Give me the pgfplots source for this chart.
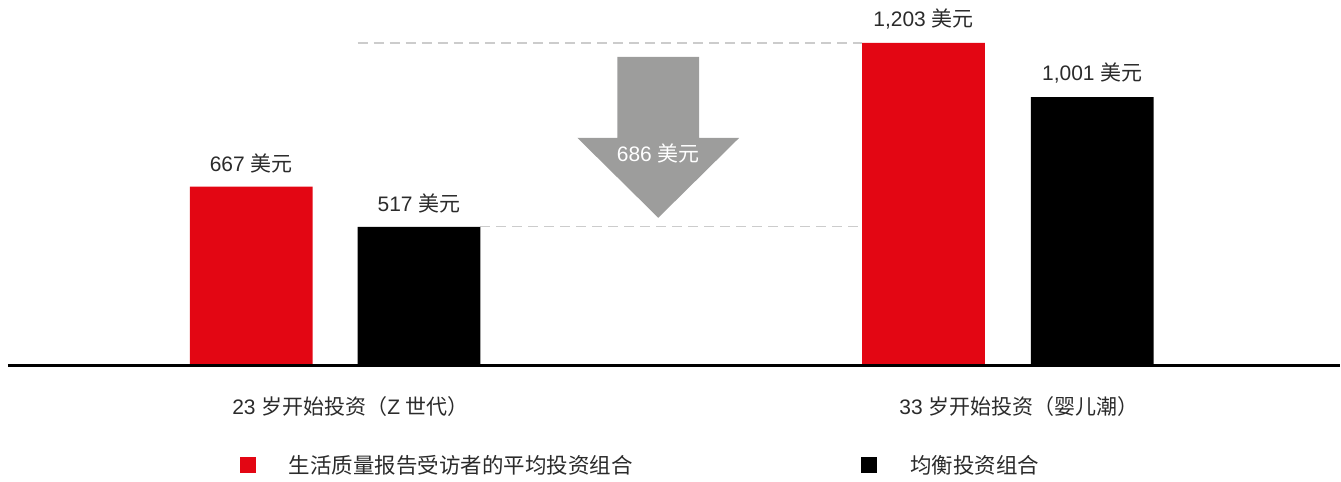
\documentclass[border=0pt]{standalone}
\usepackage{fontspec}
\setmainfont{Liberation Sans}
\newfontfamily\cjk{Noto Sans CJK SC}
\usepackage{pgfplots}
\pgfplotsset{compat=1.18}
\definecolor{qred}{HTML}{E30613}
\definecolor{qgray}{HTML}{9D9D9C}
\definecolor{qdash}{HTML}{CCCCCC}
\definecolor{qtext}{HTML}{2B2B2B}
\begin{document}
\begin{tikzpicture}
\begin{axis}[
  scale only axis, width=1341pt, height=482pt,
  xmin=0, xmax=1341, ymin=-432.2, ymax=1363,
  hide axis, clip=false,
  ybar, bar width=123, bar shift=0pt,
  point meta=y,
  nodes near coords={\pgfmathprintnumber[1000 sep={,},assume math mode=true]{\pgfplotspointmeta}\ {\cjk 美元}},
  every node near coord/.append style={font=\fontsize{21}{25}\selectfont, text=qtext, yshift=10pt},
  legend style={at={(axis cs:240,-372)}, anchor=west, draw=none, fill=none,
    inner sep=0pt, font=\fontsize{21.5}{25}\selectfont, text=qtext,
    /tikz/every odd column/.append style={column sep=31pt},
    /tikz/every even column/.append style={column sep=227pt}},
  legend columns=2,
  legend cell align=left,
]
\path (axis cs:0,-432.2) rectangle (axis cs:1341,1363);
% dashed guide lines
\draw[qdash, line width=1.2pt, dash pattern=on 10pt off 6pt] (axis cs:358,1203) -- (axis cs:863,1203);
\draw[qdash, line width=1.2pt, dash pattern=on 10pt off 6pt] (axis cs:481,517) -- (axis cs:863,517);

\addplot[fill=qred, draw=none,
  legend image code/.code={\fill[qred] (0pt,-8pt) rectangle (16pt,8pt);}]
  coordinates {(251.5,667) (924.5,1203)};
\addlegendentry{{\cjk 生活质量报告受访者的平均投资组合}}
\addplot[fill=black, draw=none,
  legend image code/.code={\fill[black] (0pt,-8pt) rectangle (16pt,8pt);}]
  coordinates {(419.5,517) (1093.5,1001)};
\addlegendentry{{\cjk 均衡投资组合}}

% arrow showing the difference
\fill[qgray] (axis cs:618,1151) -- (axis cs:700,1151) -- (axis cs:700,849) -- (axis cs:740,849)
  -- (axis cs:659,551) -- (axis cs:578,849) -- (axis cs:618,849) -- cycle;
\node[text=white, font=\fontsize{21}{25}\selectfont] at (axis cs:659,790) {686 {\cjk 美元}};

% baseline
\draw[black, line width=3pt] (axis cs:8,0) -- (axis cs:1341,0);

% category labels
\node[text=qtext, font=\fontsize{21}{25}\selectfont] at (axis cs:351,-152.7) {23 {\cjk 岁开始投资（}Z {\cjk 世代）}};
\node[text=qtext, font=\fontsize{21}{25}\selectfont] at (axis cs:1020,-152.7) {33 {\cjk 岁开始投资（婴儿潮）}};
\end{axis}
\end{tikzpicture}
\end{document}
